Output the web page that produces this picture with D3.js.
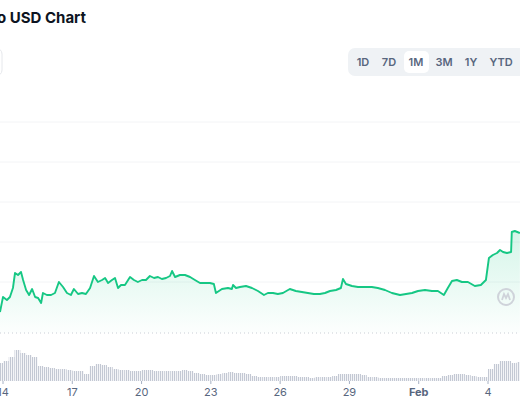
<!DOCTYPE html>
<html>
<head>
<meta charset="utf-8">
<script src="https://cdn.jsdelivr.net/npm/d3@7"></script>
<style>
  body { margin: 0; background: #fff; }
  text { font-family: Inter, "Noto Sans", sans-serif; }
</style>
</head>
<body>
<div id="chart"></div>
<script>
// data: days since Jan 14, price (arbitrary units), volume per 6h bucket
const days = [
  -0.13, 0, 0.17, 0.30, 0.43, 0.52, 0.65, 0.78, 0.87, 1.00,
  1.13, 1.26, 1.39, 1.52, 1.65, 1.73, 1.90, 2.08, 2.25, 2.42,
  2.60, 2.77, 2.94, 3.07, 3.25, 3.42, 3.59, 3.77, 3.94, 4.11,
  4.29, 4.42, 4.55, 4.72, 4.85, 4.98, 5.11, 5.28, 5.50, 5.67,
  5.84, 6.02, 6.19, 6.36, 6.54, 6.71, 6.88, 7.06, 7.23, 7.32,
  7.45, 7.66, 7.88, 8.10, 8.31, 8.53, 8.74, 8.96, 9.13, 9.22,
  9.48, 9.74, 9.91, 9.96, 10.09, 10.26, 10.52, 10.78, 11.04, 11.30,
  11.47, 11.69, 11.90, 12.12, 12.42, 12.68, 12.94, 13.20, 13.46, 13.72,
  13.94, 14.16, 14.42, 14.63, 14.72, 14.85, 15.11, 15.37, 15.67, 15.97,
  16.23, 16.54, 16.84, 17.19, 17.45, 17.71, 17.97, 18.27, 18.57, 18.83,
  19.09, 19.26, 19.44, 19.65, 19.87, 20.13, 20.43, 20.69, 20.91, 21.04,
  21.21, 21.39, 21.52, 21.65, 21.82, 22.00, 22.03, 22.16, 22.38
];
const prices = [
  97.0, 98.5, 98.2, 98.5, 99.4, 100.9, 100.7, 101.0, 100.2, 99.2,
  98.7, 99.3, 98.5, 98.4, 97.9, 98.9, 98.7, 98.7, 98.9, 100.0,
  99.5, 98.9, 98.7, 99.3, 98.8, 98.9, 98.8, 99.4, 100.6, 100.0,
  100.2, 100.4, 99.9, 100.2, 100.4, 99.4, 99.7, 99.7, 100.5, 100.2,
  100.0, 100.2, 100.2, 100.6, 100.4, 100.5, 100.3, 100.4, 100.6, 101.1,
  100.5, 100.7, 100.7, 100.5, 100.2, 99.9, 99.9, 99.9, 99.8, 98.9,
  99.3, 99.4, 99.3, 99.7, 99.4, 99.5, 99.6, 99.4, 99.1, 98.7,
  98.9, 98.9, 98.8, 98.9, 99.3, 99.1, 99.0, 98.9, 98.8, 98.8,
  98.9, 99.1, 99.2, 99.4, 100.3, 99.8, 99.6, 99.5, 99.5, 99.5,
  99.4, 99.2, 98.9, 98.7, 98.8, 98.9, 99.1, 99.2, 99.1, 99.1,
  98.7, 99.4, 100.1, 100.2, 100.0, 100.0, 99.6, 99.7, 100.2, 102.4,
  102.7, 102.9, 103.2, 103.0, 102.9, 103.0, 105.0, 105.1, 104.9
];
const volumes = [
  18, 20, 24, 31, 28, 26, 24, 15, 14, 13,
  12, 12, 11, 10, 10, 7, 15, 17, 16, 14,
  12, 11, 11, 10, 10, 11, 11, 10, 10, 10,
  10, 10, 11, 10, 8, 7, 6, 6, 7, 8,
  9, 8, 8, 7, 5, 4, 4, 4, 4, 5,
  5, 5, 4, 4, 3, 4, 4, 4, 5, 7,
  7, 7, 7, 6, 4, 4, 3, 3, 3, 3,
  3, 3, 3, 3, 3, 3, 3, 5, 6, 7,
  7, 6, 5, 4, 4, 12, 17, 20, 20, 18, 19
];
const tickDays = [0, 3, 6, 9, 12, 15, 18, 21];
const tickLabels = ["14", "17", "20", "23", "26", "29", "Feb", "4"];
const ranges = ["1D", "7D", "1M", "3M", "1Y", "YTD"];
const gridValues = [100, 104, 108, 112, 116];

const width = 520, height = 400;
const green = "#16c784";

const svg = d3.select("#chart").append("svg")
  .attr("width", width).attr("height", height);

const x = d3.scaleLinear().domain([0, 21]).range([3, 488]);
const y = d3.scaleLinear().domain([100, 116]).range([282, 122]);
const baseY = 333;
const volBase = 381;
const v = d3.scaleLinear().domain([0, 31]).range([volBase, 350]);

const defs = svg.append("defs");

// header
svg.append("text").attr("x", 86).attr("y", 23).attr("text-anchor", "end")
  .attr("font-size", 15).attr("font-weight", 700).attr("fill", "#0d1421")
  .text("to USD Chart");
svg.append("rect").attr("x", -40).attr("y", 48).attr("width", 42).attr("height", 28)
  .attr("rx", 6).attr("fill", "#fff").attr("stroke", "#e6e8ec");

svg.append("rect").attr("x", 348).attr("y", 48).attr("width", 190).attr("height", 28)
  .attr("rx", 7).attr("fill", "#eff2f5");
svg.append("rect").attr("x", 404).attr("y", 51).attr("width", 25).attr("height", 22)
  .attr("rx", 5).attr("fill", "#fff");
const bxPos = [363, 389, 416, 444, 471, 501];
svg.selectAll("text.rng").data(ranges).enter().append("text")
  .attr("class", "rng")
  .attr("x", (d, i) => bxPos[i]).attr("y", 66).attr("text-anchor", "middle")
  .attr("font-size", 11).attr("font-weight", 600).attr("fill", "#58667e")
  .text(d => d);

// grid
svg.selectAll("line.grid").data(gridValues).enter().append("line")
  .attr("x1", 0).attr("x2", width)
  .attr("y1", d => y(d)).attr("y2", d => y(d))
  .attr("stroke", "#f3f4f6");
svg.append("line").attr("x1", 0).attr("x2", width).attr("y1", baseY).attr("y2", baseY)
  .attr("stroke", "#c9ced6").attr("stroke-dasharray", "1,3");

// area + line
const data = days.map((d, i) => ({ d, p: prices[i] }));
const grad = defs.append("linearGradient").attr("id", "g")
  .attr("x1", 0).attr("x2", 0).attr("y1", 0).attr("y2", 1);
grad.append("stop").attr("offset", "0%").attr("stop-color", green).attr("stop-opacity", 0.18);
grad.append("stop").attr("offset", "100%").attr("stop-color", green).attr("stop-opacity", 0.01);

svg.append("path").datum(data)
  .attr("d", d3.area().x(d => x(d.d)).y0(baseY).y1(d => y(d.p)))
  .attr("fill", "url(#g)");
svg.append("path").datum(data)
  .attr("d", d3.line().x(d => x(d.d)).y(d => y(d.p)))
  .attr("fill", "none").attr("stroke", green).attr("stroke-width", 1.9)
  .attr("stroke-linejoin", "round");

// watermark
const wm = svg.append("g").attr("transform", "translate(506,297)");
wm.append("circle").attr("r", 8).attr("fill", "none").attr("stroke", "#cfd3da").attr("stroke-width", 2);
wm.append("path").attr("d", "M-4,3 L-2,-3 L0,1 L2,-3 L4,3")
  .attr("fill", "none").attr("stroke", "#cfd3da").attr("stroke-width", 1.8);

// volume bars, striped like the thin hourly bars
const pat = defs.append("pattern").attr("id", "stripes")
  .attr("patternUnits", "userSpaceOnUse").attr("width", 2).attr("height", 4);
pat.append("rect").attr("width", 1.2).attr("height", 4).attr("fill", "#c3c8d3");
const step = x(0.25) - x(0);
svg.selectAll("rect.vol").data(volumes).enter().append("rect")
  .attr("class", "vol")
  .attr("x", (d, i) => x(-0.125 + i * 0.25) - step / 2)
  .attr("width", step)
  .attr("y", d => v(d))
  .attr("height", d => volBase - v(d))
  .attr("fill", "url(#stripes)");

// x axis
svg.selectAll("line.tick").data(tickDays).enter().append("line")
  .attr("x1", d => x(d)).attr("x2", d => x(d))
  .attr("y1", volBase).attr("y2", volBase + 3)
  .attr("stroke", "#a6b0c3");
svg.selectAll("text.tick").data(tickDays).enter().append("text")
  .attr("x", d => x(d)).attr("y", 396).attr("text-anchor", "middle")
  .attr("font-size", 11)
  .attr("font-weight", (d, i) => tickLabels[i] === "Feb" ? 700 : 400)
  .attr("fill", "#58667e")
  .text((d, i) => tickLabels[i]);
</script>
</body>
</html>
